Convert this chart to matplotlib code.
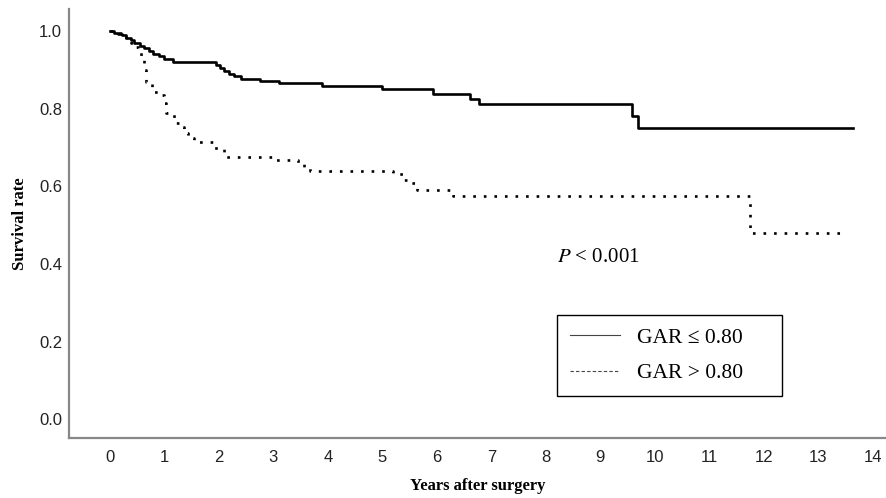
import matplotlib
matplotlib.use('Agg')
import matplotlib.pyplot as plt
from matplotlib.lines import Line2D

# Kaplan-Meier steps (time in years, survival)
low_times = [0, 0.08, 0.15, 0.22, 0.30, 0.38, 0.45, 0.55, 0.62, 0.72, 0.80, 0.90, 1.00, 1.15,
             1.95, 2.02, 2.10, 2.18, 2.28, 2.40, 2.75, 3.10, 3.90, 5.00, 5.93, 6.60, 6.77, 9.58, 9.70, 13.63]
low_surv = [1.0, 0.997, 0.993, 0.990, 0.983, 0.977, 0.970, 0.963, 0.957, 0.950, 0.943, 0.937, 0.930, 0.921,
            0.913, 0.906, 0.898, 0.891, 0.884, 0.877, 0.872, 0.867, 0.859, 0.851, 0.839, 0.826, 0.813, 0.781, 0.750, 0.750]

high_times = [0, 0.10, 0.20, 0.30, 0.38, 0.45, 0.52, 0.58, 0.62, 0.66, 0.78, 0.95, 1.00, 1.03, 1.18, 1.28,
              1.36, 1.44, 1.55, 1.90, 2.10, 3.00, 3.45, 3.57, 3.67, 5.20, 5.40, 5.50, 5.63, 6.30, 11.74, 13.40]
high_surv = [1.0, 0.995, 0.990, 0.980, 0.970, 0.960, 0.950, 0.930, 0.900, 0.870, 0.844, 0.836, 0.815, 0.790, 0.763, 0.753,
             0.738, 0.725, 0.715, 0.700, 0.676, 0.668, 0.658, 0.650, 0.640, 0.632, 0.617, 0.609, 0.591, 0.575, 0.480, 0.480]

x_ticks = list(range(0, 15))
y_ticks = [0.0, 0.2, 0.4, 0.6, 0.8, 1.0]
legend_labels = ['GAR \u2264 0.80', 'GAR > 0.80']

plt.rcParams['mathtext.fontset'] = 'stix'
serif = ['Liberation Serif', 'DejaVu Serif']
sans = ['Liberation Sans', 'DejaVu Sans']

fig = plt.figure(figsize=(8.87, 4.98), dpi=100)
ax = fig.add_axes([69 / 887, 1 - 438 / 498, 1 - 69 / 887, (438 - 9) / 498])

ax.step(low_times, low_surv, where='post', color='black', lw=1.9)
ax.step(high_times, high_surv, where='post', color='black', lw=1.9, linestyle=(0, (1, 3)))

ax.set_xlim(-0.75, 14.26)
ax.set_ylim(-0.049, 1.058)
ax.set_xticks(x_ticks)
ax.set_yticks(y_ticks)
ax.set_xticklabels([str(t) for t in x_ticks], family=sans, fontsize=12, color='#222222')
ax.set_yticklabels([f'{v:.1f}' for v in y_ticks], family=sans, fontsize=12, color='#222222')
ax.tick_params(axis='both', length=0)
ax.tick_params(axis='x', pad=9)
ax.tick_params(axis='y', pad=5)

for side in ['top', 'right']:
    ax.spines[side].set_visible(False)
for side in ['left', 'bottom']:
    ax.spines[side].set_color('#888888')
    ax.spines[side].set_linewidth(1.6)

ax.set_xlabel('Years after surgery', family=serif, fontweight='bold', fontsize=12, labelpad=9)
ax.set_ylabel('Survival rate', family=serif, fontweight='bold', fontsize=12, labelpad=8)

ax.text(8.2, 0.418, r'$P$ < 0.001', family=serif, fontsize=15, ha='left', va='center')

handles = [Line2D([], [], color='#444444', lw=0.8),
           Line2D([], [], color='#444444', lw=0.8, linestyle=(0, (3, 2)))]
leg = ax.legend(handles, legend_labels, loc='lower left', mode='expand',
                bbox_to_anchor=(0.597, 0.098, 0.275, 0.196), prop={'family': serif, 'size': 15.5},
                frameon=True, fancybox=False, edgecolor='black', framealpha=1,
                handlelength=2.3, handletextpad=0.8, borderpad=0.6, labelspacing=0.7,
                borderaxespad=0)
leg.get_frame().set_linewidth(1.0)

fig.savefig('out.png', dpi=100)
